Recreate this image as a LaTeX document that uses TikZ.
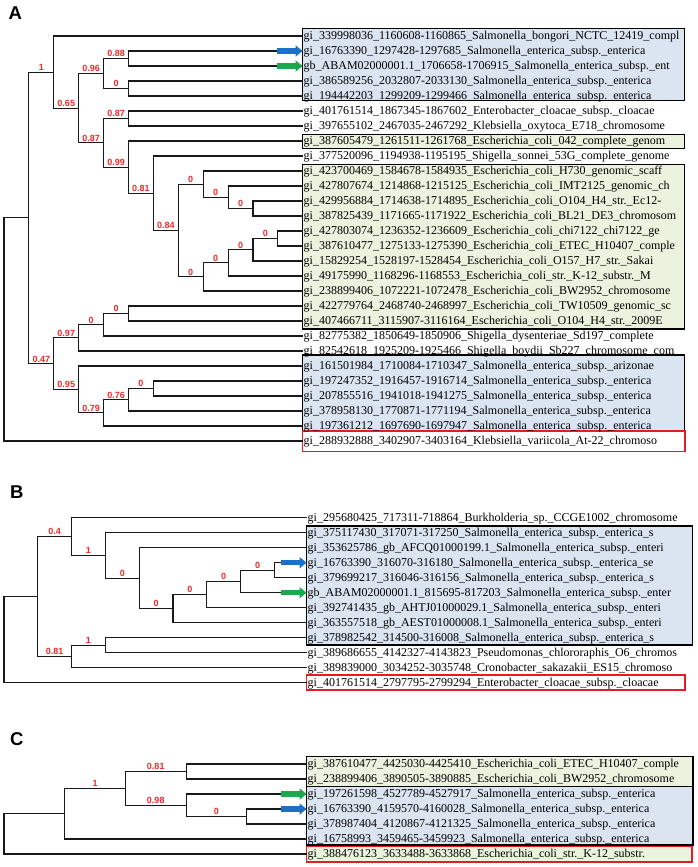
\documentclass[tikz,border=0pt]{standalone}
\usepackage{fontspec}
\setmainfont{Liberation Serif}
\newfontfamily\arialfont{Liberation Sans}
\usetikzlibrary{arrows.meta}
\definecolor{salblue}{RGB}{219,228,241}
\definecolor{coligreen}{RGB}{235,242,222}
\definecolor{outred}{RGB}{226,30,36}
\definecolor{supred}{RGB}{240,42,42}
\definecolor{hitblue}{RGB}{30,112,196}
\definecolor{hitgreen}{RGB}{28,168,76}
\begin{document}
\catcode`\_=12
\begin{tikzpicture}[x=1pt, y=-1pt,
    branch/.style={draw=black!90, line width=1.15pt},
    support/.style={pos=0.75, above, inner sep=1pt, text=supred,
      font=\arialfont\bfseries\fontsize{9}{10}\selectfont},
    leaf/.style={anchor=west, inner sep=1pt, text height=9pt, text depth=1.1pt,
      font=\fontsize{12}{14}\selectfont},
    clade/.style={draw=black, line width=1.2pt},
    outgroup/.style={draw=outred, line width=1.2pt},
    panel/.style={anchor=base west, inner sep=0pt,
      font=\arialfont\bfseries\fontsize{18.5}{20}\selectfont},
    hit/.style={line width=5.5pt, -{Triangle[length=7pt, width=11.5pt, line width=0pt]}}]
  \useasboundingbox (0,0) rectangle (697,867);

  % clade boxes
  \path[clade, fill=salblue] (302.5,28.3) rectangle (684.5,100.5);
  \path[clade, fill=coligreen] (302.5,134.3) rectangle (684.5,148.3);
  \path[clade, fill=coligreen] (302.5,164.3) rectangle (684.5,329);
  \path[clade, fill=salblue] (302.5,355) rectangle (684.5,430.5);
  \path[outgroup] (302.5,431) rectangle (685,451.7);
  \path[clade, fill=salblue] (306.5,526) rectangle (692.5,645);
  \path[outgroup] (306.5,675) rectangle (685,690);
  \path[clade, fill=coligreen] (306.5,756.7) rectangle (693,786.7);
  \path[clade, fill=salblue] (306.5,786.7) rectangle (693,845);
  \path[outgroup, fill=coligreen] (306.5,846.3) rectangle (692,862);

  \node[panel] (pA) at (8.5,19.5) {A};
  \node[panel] (pB) at (10,498) {B};
  \node[panel] (pC) at (10,745) {C};

  % leaves
  \foreach \txt [count=\i] in {gi_339998036_1160608-1160865_Salmonella_bongori_NCTC_12419_compl,
      gi_16763390_1297428-1297685_Salmonella_enterica_subsp._enterica,
      gb_ABAM02000001.1_1706658-1706915_Salmonella_enterica_subsp._ent,
      gi_386589256_2032807-2033130_Salmonella_enterica_subsp._enterica,
      gi_194442203_1299209-1299466_Salmonella_enterica_subsp._enterica,
      gi_401761514_1867345-1867602_Enterobacter_cloacae_subsp._cloacae,
      gi_397655102_2467035-2467292_Klebsiella_oxytoca_E718_chromosome,
      gi_387605479_1261511-1261768_Escherichia_coli_042_complete_genom,
      gi_377520096_1194938-1195195_Shigella_sonnei_53G_complete_genome,
      gi_423700469_1584678-1584935_Escherichia_coli_H730_genomic_scaff,
      gi_427807674_1214868-1215125_Escherichia_coli_IMT2125_genomic_ch,
      gi_429956884_1714638-1714895_Escherichia_coli_O104_H4_str._Ec12-,
      gi_387825439_1171665-1171922_Escherichia_coli_BL21_DE3_chromosom,
      gi_427803074_1236352-1236609_Escherichia_coli_chi7122_chi7122_ge,
      gi_387610477_1275133-1275390_Escherichia_coli_ETEC_H10407_comple,
      gi_15829254_1528197-1528454_Escherichia_coli_O157_H7_str._Sakai,
      gi_49175990_1168296-1168553_Escherichia_coli_str._K-12_substr._M,
      gi_238899406_1072221-1072478_Escherichia_coli_BW2952_chromosome,
      gi_422779764_2468740-2468997_Escherichia_coli_TW10509_genomic_sc,
      gi_407466711_3115907-3116164_Escherichia_coli_O104_H4_str._2009E,
      gi_82775382_1850649-1850906_Shigella_dysenteriae_Sd197_complete,
      gi_82542618_1925209-1925466_Shigella_boydii_Sb227_chromosome_com,
      gi_161501984_1710084-1710347_Salmonella_enterica_subsp._arizonae,
      gi_197247352_1916457-1916714_Salmonella_enterica_subsp._enterica,
      gi_207855516_1941018-1941275_Salmonella_enterica_subsp._enterica,
      gi_378958130_1770871-1771194_Salmonella_enterica_subsp._enterica,
      gi_197361212_1697690-1697947_Salmonella_enterica_subsp._enterica,
      gi_288932888_3402907-3403164_Klebsiella_variicola_At-22_chromoso}
    \node[leaf] (a\i) at (302.5, {36+15*(\i-1)}) {\txt};
  \foreach \txt [count=\i] in {gi_295680425_717311-718864_Burkholderia_sp._CCGE1002_chromosome,
      gi_375117430_317071-317250_Salmonella_enterica_subsp._enterica_s,
      gi_353625786_gb_AFCQ01000199.1_Salmonella_enterica_subsp._enteri,
      gi_16763390_316070-316180_Salmonella_enterica_subsp._enterica_se,
      gi_379699217_316046-316156_Salmonella_enterica_subsp._enterica_s,
      gb_ABAM02000001.1_815695-817203_Salmonella_enterica_subsp._enter,
      gi_392741435_gb_AHTJ01000029.1_Salmonella_enterica_subsp._enteri,
      gi_363557518_gb_AEST01000008.1_Salmonella_enterica_subsp._enteri,
      gi_378982542_314500-316008_Salmonella_enterica_subsp._enterica_s,
      gi_389686655_4142327-4143823_Pseudomonas_chlororaphis_O6_chromos,
      gi_389839000_3034252-3035748_Cronobacter_sakazakii_ES15_chromoso,
      gi_401761514_2797795-2799294_Enterobacter_cloacae_subsp._cloacae}
    \node[leaf] (b\i) at (306.5, {517.7+15*(\i-1)}) {\txt};
  \foreach \txt [count=\i] in {gi_387610477_4425030-4425410_Escherichia_coli_ETEC_H10407_comple,
      gi_238899406_3890505-3890885_Escherichia_coli_BW2952_chromosome,
      gi_197261598_4527789-4527917_Salmonella_enterica_subsp._enterica,
      gi_16763390_4159570-4160028_Salmonella_enterica_subsp._enterica,
      gi_378987404_4120867-4121325_Salmonella_enterica_subsp._enterica,
      gi_16758993_3459465-3459923_Salmonella_enterica_subsp._enterica,
      gi_388476123_3633488-3633868_Escherichia_coli_str._K-12_substr.}
    \node[leaf] (c\i) at (306.5, {764+15*(\i-1)}) {\txt};

  % panel A
  \coordinate (Aroot) at (4,329.4);
  \coordinate (Atop) at (28.9,217.9);
  \coordinate (A1) at (53.8,72.1);
  \coordinate (A65) at (78.7,108.2);
  \coordinate (A96) at (103.6,73.5);
  \coordinate (A88) at (128.5,58.5);
  \coordinate (A0a) at (128.5,88.5);
  \coordinate (A87l) at (103.6,142.8);
  \coordinate (A87u) at (128.5,118.5);
  \coordinate (A99) at (128.5,167.1);
  \coordinate (A81) at (153.4,193.3);
  \coordinate (A84) at (178.3,230.5);
  \coordinate (A0b) at (203.2,184.1);
  \coordinate (A0g) at (228.1,197.25);
  \coordinate (A0h) at (253,208.5);
  \coordinate (A0c) at (203.2,276.9);
  \coordinate (A0d) at (228.1,262.9);
  \coordinate (A0e) at (253,249.75);
  \coordinate (A0f) at (277.9,238.5);
  \coordinate (A47) at (53.8,363.7);
  \coordinate (A97) at (78.7,337.9);
  \coordinate (A0j) at (103.6,324.75);
  \coordinate (A0k) at (128.5,313.5);
  \coordinate (A95) at (78.7,389.4);
  \coordinate (A79) at (103.6,412.9);
  \coordinate (A76) at (128.5,399.75);
  \coordinate (A0m) at (153.4,388.5);
  \foreach \p/\c in {Aroot/Atop, Aroot/a28, A1/a1, A88/a2, A88/a3, A0a/a4, A0a/a5,
      A87u/a6, A87u/a7, A99/a8, A81/a9, A0b/a10, A0g/a11, A0h/a12, A0h/a13,
      A0f/a14, A0f/a15, A0e/a16, A0d/a17, A0c/a18, A0k/a19, A0k/a20, A0j/a21,
      A97/a22, A95/a23, A0m/a24, A0m/a25, A76/a26, A79/a27}
    \draw[branch] (\p) |- (\c);
  \foreach \p/\c/\s in {Atop/A1/1, Atop/A47/0.47, A1/A65/0.65, A65/A96/0.96,
      A65/A87l/0.87, A96/A88/0.88, A96/A0a/0, A87l/A87u/0.87, A87l/A99/0.99,
      A99/A81/0.81, A81/A84/0.84, A84/A0b/0, A84/A0c/0, A0b/A0g/0, A0g/A0h/0,
      A0c/A0d/0, A0d/A0e/0, A0e/A0f/0, A47/A97/0.97, A47/A95/0.95, A97/A0j/0,
      A0j/A0k/0, A95/A79/0.79, A79/A76/0.76, A76/A0m/0}
    \draw[branch] (\p) |- (\c) node[support] {\s};

  % panel B
  \coordinate (Broot) at (4,639.6);
  \coordinate (Btop) at (37.8,596.5);
  \coordinate (B04) at (71.6,536.6);
  \coordinate (B1a) at (105.4,555.4);
  \coordinate (B0a) at (139.2,578.2);
  \coordinate (B0b) at (173,608.6);
  \coordinate (B0c) at (206.8,594.6);
  \coordinate (B0d) at (240.6,581.45);
  \coordinate (B0e) at (274.4,570.2);
  \coordinate (B81) at (71.6,656.45);
  \coordinate (B1b) at (105.4,645.2);
  \foreach \p/\c in {Broot/Btop, Broot/b12, B04/b1, B1a/b2, B0a/b3, B0e/b4, B0e/b5,
      B0d/b6, B0c/b7, B0b/b8, B1b/b9, B1b/b10, B81/b11}
    \draw[branch] (\p) |- (\c);
  \foreach \p/\c/\s in {Btop/B04/0.4, Btop/B81/0.81, B04/B1a/1, B1a/B0a/0,
      B0a/B0b/0, B0b/B0c/0, B0c/B0d/0, B0d/B0e/0, B81/B1b/1}
    \draw[branch] (\p) |- (\c) node[support] {\s};

  % panel C
  \coordinate (Croot) at (4,833.8);
  \coordinate (Ctop) at (64.7,813.7);
  \coordinate (C1) at (125.4,788.4);
  \coordinate (C81) at (186.1,771.5);
  \coordinate (C98) at (186.1,805.25);
  \coordinate (C0) at (246.8,816.5);
  \foreach \p/\c in {Croot/Ctop, Croot/c7, Ctop/c6, C81/c1, C81/c2, C98/c3, C0/c4, C0/c5}
    \draw[branch] (\p) |- (\c);
  \foreach \p/\c/\s in {Ctop/C1/1, C1/C81/0.81, C1/C98/0.98, C98/C0/0}
    \draw[branch] (\p) |- (\c) node[support] {\s};

  % marked sequences
  \draw[hit, hitblue] ([xshift=-26pt]a2.west) -- (a2.west);
  \draw[hit, hitgreen] ([xshift=-26pt]a3.west) -- (a3.west);
  \draw[hit, hitblue] ([xshift=-26pt]b4.west) -- (b4.west);
  \draw[hit, hitgreen] ([xshift=-26pt]b6.west) -- (b6.west);
  \draw[hit, hitgreen] ([xshift=-26pt]c3.west) -- (c3.west);
  \draw[hit, hitblue] ([xshift=-26pt]c4.west) -- (c4.west);
\end{tikzpicture}
\end{document}
